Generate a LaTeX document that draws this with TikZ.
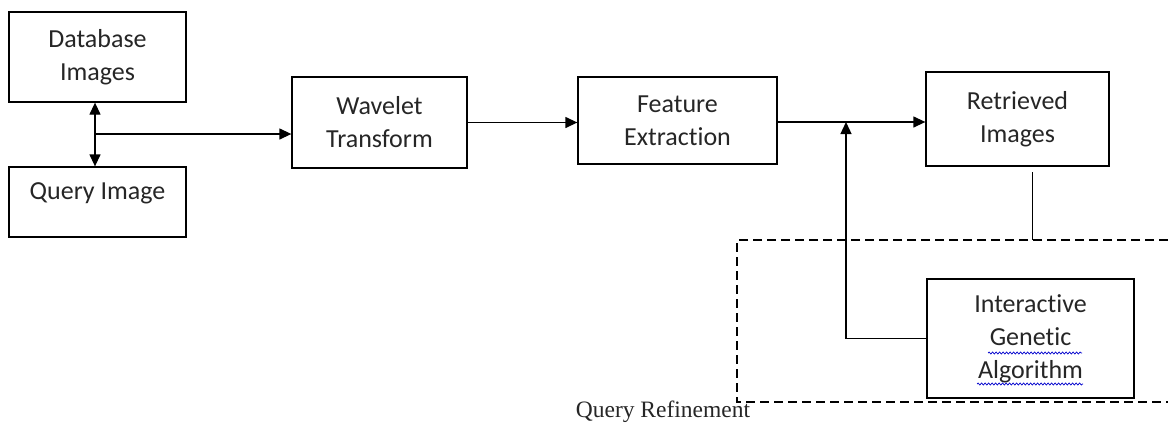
\documentclass[tikz,border=0pt]{standalone}
\usepackage{fontspec}
\setmainfont{Carlito}[Ligatures={NoCommon}]
\newfontfamily\serifq{Liberation Serif}
\usetikzlibrary{arrows.meta,decorations.pathmorphing,calc}
\begin{document}
\begin{tikzpicture}[x=1pt,y=-1pt,
  box/.style={draw, line width=1.3pt, inner sep=0pt, align=center,
    font=\fontsize{26}{33}\selectfont, text=black!85},
  conn/.style={line width=1.3pt},
  tip/.tip={Triangle[length=12pt,width=11pt]},
  arr/.style={conn, -tip},
  squig/.style={blue!80!black, line width=0.7pt, decorate,
    decoration={snake, segment length=3.5pt, amplitude=1pt}}]
\useasboundingbox (0,0) rectangle (1168,426);
\node[box, minimum width=177pt, minimum height=90pt] (db) at (97.5,57) {Database\\Images};
\node[box, minimum width=177pt, minimum height=70pt,
  label={[font=\fontsize{26}{33}\selectfont, text=black!85, yshift=9pt]center:Query Image}] (q) at (97.5,202) {};
\node[box, minimum width=175pt, minimum height=91pt] (wt) at (379.5,122.5) {Wavelet\\Transform};
\node[box, minimum width=199pt, minimum height=87pt] (fe) at (677.5,120.5) {Feature\\Extraction};
\node[box, minimum width=183pt, minimum height=94pt] (ret) at (1017.5,119) {Retrieved\\Images};
\node[box, minimum width=207pt, minimum height=119pt] (iga) at (1030.5,338.5) {Interactive\\Genetic\\Algorithm};
\coordinate (j1) at (95,134);
\coordinate (j2) at (846,122);
\coordinate (r1) at (1032,172);
\coordinate (r2) at (1032,240);
\draw[conn, tip-tip] (db.south -| j1) -- (q.north -| j1);
\draw[arr] (j1) -- (j1 -| wt.west);
\draw[arr] (wt.east) -- (wt.east -| fe.west);
\draw[arr] (fe.east |- j2) -- (j2 -| ret.west);
\draw[arr] (iga.west) -| (j2);
\draw[line width=1pt] (r1) -- (r2);
\draw[line width=1.3pt, dash pattern=on 9pt off 5pt] (1168,240) -- (737,240) -- (737,402) -- (1168,402);
\node[font=\serifq\fontsize{23.5}{28}\selectfont, text=black!85] (qr) at (663,412) {Query Refinement};
\draw[squig] (988,353) -- (1082,353);
\draw[squig] (977,384) -- (1083,384);
\end{tikzpicture}
\end{document}
